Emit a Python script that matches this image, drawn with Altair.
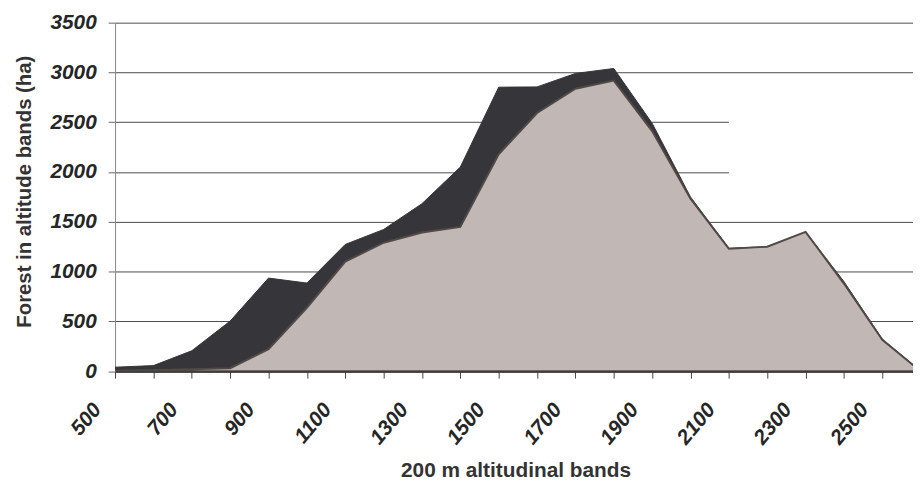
import altair as alt
import pandas as pd

# altitude band (m)
altitudes = [500, 600, 700, 800, 900, 1000, 1100, 1200, 1300, 1400, 1500,
             1600, 1700, 1800, 1900, 2000, 2100, 2200, 2300, 2400, 2500, 2600]
# total forest area (ha) - dark series
total_forest = [40, 56, 205, 503, 935, 885, 1273, 1423, 1682, 2050, 2852,
                2855, 2990, 3040, 2490, 1750, 1234, 1250, 1399, 900, 322, 0]
# sub-set forest area (ha) - light series
subset_forest = [5, 10, 20, 30, 222, 637, 1100, 1290, 1393, 1449, 2179,
                 2593, 2836, 2918, 2411, 1731, 1230, 1250, 1399, 880, 315, 0]

# blank region of the plot (where gridlines are interrupted in the original)
mask_x = [2100]
mask_x2 = [2600]
mask_y = [1800]
mask_y2 = [2700]

df = pd.DataFrame({"alt": altitudes, "total": total_forest, "subset": subset_forest})
mask_df = pd.DataFrame({"x": mask_x, "x2": mask_x2, "y": mask_y, "y2": mask_y2})

FONT = "Liberation Sans"
TXT = "#262626"

x_scale = alt.Scale(domain=[500, 2580], nice=False, zero=False)
y_scale = alt.Scale(domain=[0, 3500], nice=False)

x_axis = alt.Axis(
    title="200 m altitudinal bands",
    values=list(range(500, 2601, 100)),
    format="d",
    labelExpr="datum.value % 200 == 100 ? datum.label : ''",
    labelAngle=-50,
    labelAlign="right",
    labelBaseline="middle",
    labelOffset=-18,
    labelPadding=28,
    labelFont=FONT,
    labelFontSize=21,
    labelFontWeight="bold",
    labelFontStyle="italic",
    labelColor=TXT,
    labelOverlap=False,
    labelFlush=False,
    tickSize=7,
    tickColor="#444444",
    domainColor="#333333",
    domainWidth=2,
    grid=False,
    titleFont=FONT,
    titleFontSize=21,
    titleFontWeight="bold",
    titleColor="#333333",
    titleX=404,
    titleY=106.5,
    titleAlign="center",
    titleBaseline="alphabetic",
)

y_axis = alt.Axis(
    title="Forest in altitude bands (ha)",
    values=list(range(0, 3501, 500)),
    format="d",
    labelFont=FONT,
    labelFontSize=21,
    labelFontWeight="bold",
    labelFontStyle="italic",
    labelColor=TXT,
    labelPadding=12,
    tickSize=7,
    tickColor="#666666",
    domainColor="#888888",
    grid=True,
    gridColor="#4a4a4a",
    gridWidth=1,
    titleFont=FONT,
    titleFontSize=20.5,
    titleFontWeight="bold",
    titleColor="#333333",
    titleX=-91,
    titleY=170,
    titleAngle=-90,
    titleAlign="center",
    titleBaseline="middle",
)

mask = alt.Chart(mask_df).mark_rect(color="white", clip=True).encode(
    x=alt.X("x:Q", scale=x_scale, axis=x_axis),
    x2="x2:Q",
    y=alt.Y("y:Q", scale=y_scale, axis=y_axis),
    y2="y2:Q",
)

dark = alt.Chart(df).mark_area(
    color="#36353a", opacity=1, clip=True, stroke="#36353a", strokeWidth=1
).encode(
    x=alt.X("alt:Q", scale=x_scale, axis=x_axis),
    y=alt.Y("total:Q", scale=y_scale, axis=y_axis),
)

light = alt.Chart(df).mark_area(
    color="#c1b8b5", opacity=1, clip=True, stroke="#514946", strokeWidth=2
).encode(
    x=alt.X("alt:Q", scale=x_scale, axis=x_axis),
    y=alt.Y("subset:Q", scale=y_scale, axis=y_axis),
)

chart = alt.layer(mask, dark, light).properties(
    width=805,
    height=351.6,
    autosize=alt.AutoSizeParams(type="none"),
    padding={"left": 108, "top": 12.7, "right": 0, "bottom": 110},
    background="white",
).configure_view(stroke=None)

chart.save("out.html", embed_options={"renderer": "svg", "actions": False})
